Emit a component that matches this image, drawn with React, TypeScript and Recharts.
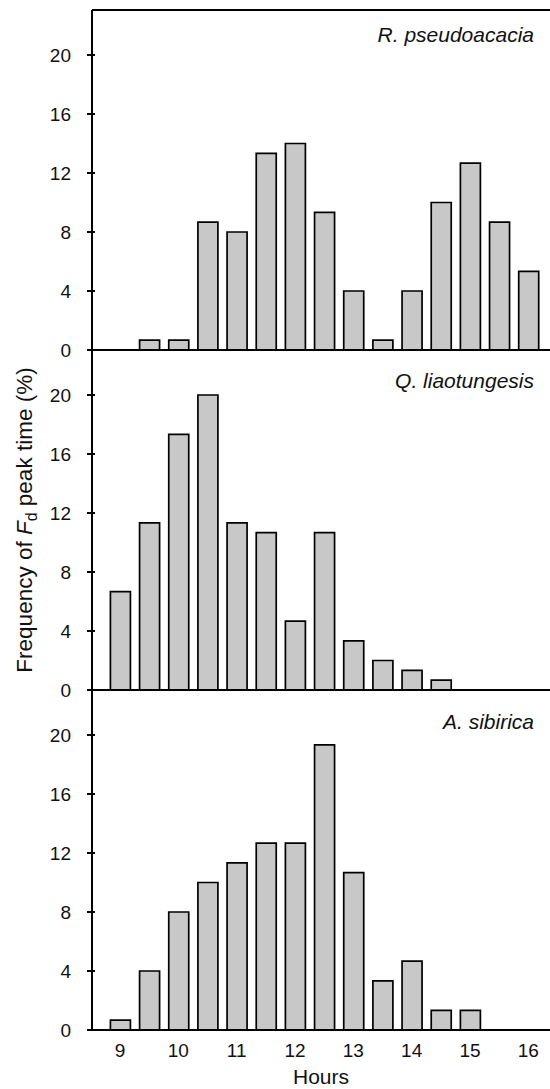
import React from "react";
import { BarChart, Bar, XAxis, YAxis, ReferenceLine } from "recharts";

// bin centres (hours)
const hours = [9, 9.5, 10, 10.5, 11, 11.5, 12, 12.5, 13, 13.5, 14, 14.5, 15, 15.5, 16];
const hourTicks = [9, 10, 11, 12, 13, 14, 15, 16];
const freqTicks = [0, 4, 8, 12, 16, 20];

// frequency of Fd peak time (%)
const rPseudoacacia = [0, 0.67, 0.67, 8.67, 8, 13.33, 14, 9.33, 4, 0.67, 4, 10, 12.67, 8.67, 5.33];
const qLiaotungesis = [6.67, 11.33, 17.33, 20, 11.33, 10.67, 4.67, 10.67, 3.33, 2, 1.33, 0.67, 0, 0, 0];
const aSibirica = [0.67, 4, 8, 10, 11.33, 12.67, 12.67, 19.33, 10.67, 3.33, 4.67, 1.33, 1.33, 0, 0];

const FONT = "'Liberation Sans', Arial, sans-serif";
const Y_TOP = 23.05;

const toRows = (vals: number[]) => hours.map((h, i) => ({ h, v: vals[i] }));

const YTick = (props: any) => {
  const { x, y, payload } = props;
  return (
    <g>
      <line x1={x - 5} x2={x + 3} y1={y} y2={y} stroke="#000" strokeWidth={2} />
      <text x={x - 21} y={y + 7} textAnchor="end" fontSize={19} fontFamily={FONT} fill="#111">
        {payload.value}
      </text>
    </g>
  );
};

const XTick = (props: any) => {
  const { x, y, payload } = props;
  return (
    <text x={x} y={y + 27} textAnchor="middle" fontSize={19} fontFamily={FONT} fill="#111">
      {payload.value}
    </text>
  );
};

const yLabel = (props: any) => {
  const vb = props.viewBox;
  const cx = 32;
  const cy = vb.y + vb.height / 2;
  return (
    <text
      x={cx}
      y={cy}
      transform={`rotate(-90 ${cx} ${cy})`}
      textAnchor="middle"
      fontSize={22.5}
      fontFamily={FONT}
      fill="#111"
    >
      Frequency of <tspan fontStyle="italic">F</tspan>
      <tspan dy={5} fontSize={16}>d</tspan>
      <tspan dy={-5}> peak time (%)</tspan>
    </text>
  );
};

const hoursLabel = (props: any) => {
  const vb = props.viewBox;
  return (
    <text x={vb.x + vb.width / 2} y={vb.y + 54} textAnchor="middle" fontSize={21} fontFamily={FONT} fill="#111">
      Hours
    </text>
  );
};

type PanelProps = {
  title: string;
  values: number[];
  top: number;
  titleDy: number;
  bottom?: boolean;
  axisLabel?: boolean;
};

const Panel = ({ title, values, top, titleDy, bottom, axisLabel }: PanelProps) => (
  <div style={{ position: "absolute", left: 0, top }}>
    <BarChart
      width={550}
      height={bottom ? 409 : 364}
      data={toRows(values)}
      margin={{ top: 10, right: 0, left: 0, bottom: bottom ? 0 : 14 }}
    >
      <XAxis
        dataKey="h"
        type="number"
        domain={[8.52, 16.372]}
        ticks={hourTicks}
        height={bottom ? 59 : 0}
        axisLine={{ stroke: "#000", strokeWidth: 2 }}
        tickLine={false}
        tickSize={0}
        tickMargin={0}
        tick={bottom ? <XTick /> : false}
        label={bottom ? hoursLabel : undefined}
      />
      <YAxis
        type="number"
        domain={[0, Y_TOP]}
        ticks={freqTicks}
        width={92}
        axisLine={{ stroke: "#000", strokeWidth: 2 }}
        tickLine={false}
        tickSize={0}
        tickMargin={0}
        tick={<YTick />}
        label={axisLabel ? yLabel : undefined}
      />
      <ReferenceLine
        y={Y_TOP}
        stroke="#000"
        strokeWidth={2}
        label={(p: any) => (
          <text
            x={p.viewBox.x + p.viewBox.width - 16}
            y={p.viewBox.y + titleDy}
            textAnchor="end"
            fontSize={21}
            fontStyle="italic"
            fontFamily={FONT}
            fill="#111"
          >
            {title}
          </text>
        )}
      />
      <Bar dataKey="v" fill="#c8c8c8" stroke="#000" strokeWidth={1.7} barSize={20} isAnimationActive={false} />
    </BarChart>
  </div>
);

export default function App() {
  return (
    <div style={{ position: "absolute", left: 0, top: 0, width: 550, height: 1089, background: "#fff" }}>
      <Panel title="R. pseudoacacia" values={rPseudoacacia} top={0} titleDy={32} />
      <Panel title="Q. liaotungesis" values={qLiaotungesis} top={340} titleDy={38} axisLabel />
      <Panel title="A. sibirica" values={aSibirica} top={680} titleDy={39} bottom />
    </div>
  );
}
